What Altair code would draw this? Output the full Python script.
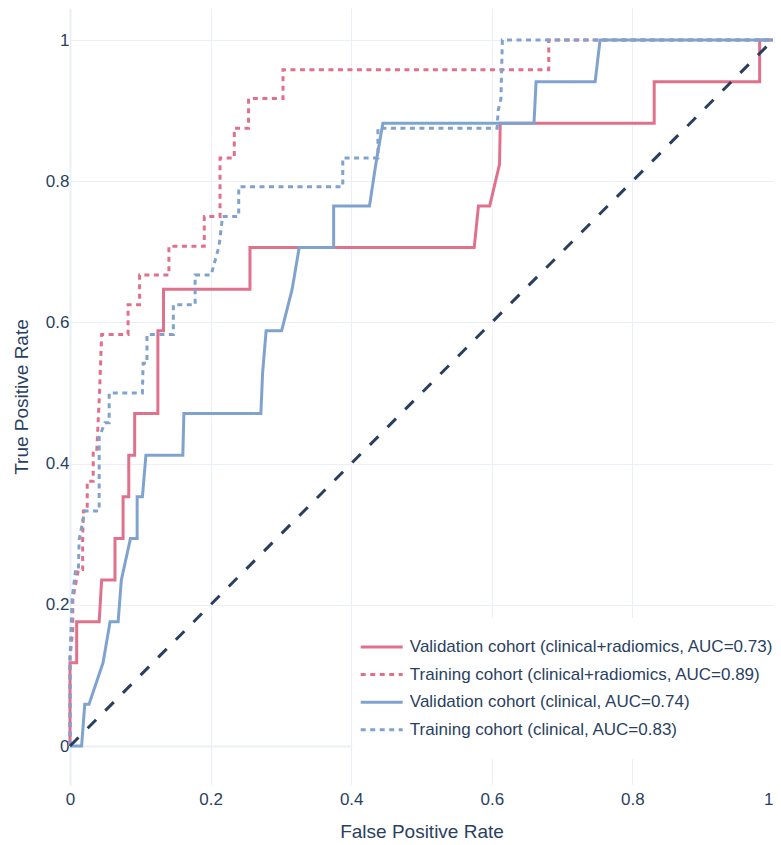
import altair as alt
import pandas as pd

series_names = [
    "Validation cohort (clinical+radiomics, AUC=0.73)",
    "Training cohort (clinical+radiomics, AUC=0.89)",
    "Validation cohort (clinical, AUC=0.74)",
    "Training cohort (clinical, AUC=0.83)",
]
series_colors = ["#E0718D", "#E0718D", "#7FA3CE", "#7FA3CE"]
series_dashes = [[1, 0], [5, 4.5], [1, 0], [5, 4.5]]

val_cr_fpr = [0, 0, 0.0095, 0.0095, 0.0415, 0.045, 0.064, 0.064, 0.0755, 0.0755, 0.0836, 0.0836, 0.092, 0.092,
              0.125, 0.125, 0.133, 0.133, 0.256, 0.256, 0.575, 0.581, 0.597, 0.611, 0.612, 0.831, 0.831, 0.981,
              0.981, 1.0]
val_cr_tpr = [0, 0.118, 0.118, 0.176, 0.176, 0.235, 0.235, 0.294, 0.294, 0.353, 0.353, 0.412, 0.412, 0.471,
              0.471, 0.588, 0.588, 0.647, 0.647, 0.706, 0.706, 0.765, 0.765, 0.824, 0.882, 0.882, 0.941, 0.941,
              1.0, 1.0]

train_cr_fpr = [0, 0, 0.004, 0.004, 0.012, 0.018, 0.018, 0.019, 0.0245, 0.0245, 0.033, 0.033, 0.038, 0.040,
                0.042, 0.045, 0.0826, 0.0826, 0.099, 0.099, 0.1407, 0.1407, 0.191, 0.191, 0.2134, 0.2134,
                0.2337, 0.2337, 0.254, 0.254, 0.303, 0.303, 0.681, 0.681, 1.0]
train_cr_tpr = [0, 0.125, 0.167, 0.208, 0.25, 0.25, 0.292, 0.333, 0.333, 0.375, 0.375, 0.417, 0.417, 0.458,
                0.5, 0.583, 0.583, 0.625, 0.625, 0.667, 0.667, 0.708, 0.708, 0.75, 0.75, 0.833, 0.833, 0.875,
                0.875, 0.917, 0.917, 0.958, 0.958, 1.0, 1.0]

val_c_fpr = [0, 0.0165, 0.021, 0.027, 0.047, 0.057, 0.0685, 0.073, 0.086, 0.0955, 0.0955, 0.103, 0.108, 0.1605,
             0.162, 0.2715, 0.274, 0.279, 0.301, 0.316, 0.326, 0.375, 0.375, 0.426, 0.435, 0.445, 0.660, 0.663,
             0.747, 0.754, 1.0]
val_c_tpr = [0, 0, 0.059, 0.059, 0.118, 0.176, 0.176, 0.235, 0.294, 0.294, 0.353, 0.353, 0.412, 0.412, 0.471,
             0.471, 0.529, 0.588, 0.588, 0.647, 0.706, 0.706, 0.765, 0.765, 0.824, 0.882, 0.882, 0.941, 0.941,
             1.0, 1.0]

train_c_fpr = [0, 0, 0.003, 0.008, 0.012, 0.013, 0.021, 0.0415, 0.0415, 0.0496, 0.0557, 0.0557, 0.103, 0.104,
               0.1095, 0.1095, 0.147, 0.147, 0.178, 0.178, 0.2007, 0.212, 0.217, 0.24, 0.24, 0.388, 0.388,
               0.438, 0.438, 0.6076, 0.609, 0.613, 0.615, 1.0]
train_c_tpr = [0, 0.125, 0.208, 0.25, 0.25, 0.292, 0.333, 0.333, 0.437, 0.458, 0.458, 0.5, 0.5, 0.542, 0.542,
               0.583, 0.583, 0.625, 0.625, 0.667, 0.667, 0.708, 0.75, 0.75, 0.792, 0.792, 0.833, 0.833, 0.875,
               0.875, 0.9, 0.917, 1.0, 1.0]

diag_fpr = [0, 1]
diag_tpr = [0, 1]

tick_values = [0, 0.2, 0.4, 0.6, 0.8, 1]

rows = []
for name, fx, fy in zip(series_names,
                        [val_cr_fpr, train_cr_fpr, val_c_fpr, train_c_fpr],
                        [val_cr_tpr, train_cr_tpr, val_c_tpr, train_c_tpr]):
    for i, (a, b) in enumerate(zip(fx, fy)):
        rows.append({"series": name, "fpr": a, "tpr": b, "idx": i})
df = pd.DataFrame(rows)
diag_df = pd.DataFrame({"fpr": diag_fpr, "tpr": diag_tpr})

TEXT = "#2a3f5f"
GRID = "#EBF0F8"
FONT = "Liberation Sans"
grid_width = {"condition": {"test": "datum.value === 0", "value": 2}, "value": 1}
x_label_align = {"condition": {"test": "datum.value === 1", "value": "right"}, "value": "center"}

x_scale = alt.Scale(domain=[0, 1], nice=False, zero=False)
y_scale = alt.Scale(domain=[-0.05524, 1.04533], nice=False, zero=False)

x_axis = alt.Axis(values=tick_values, format="~g", title="False Positive Rate", grid=True, gridColor=GRID,
                  gridWidth=grid_width, domain=False, ticks=False, labelPadding=6, titlePadding=15,
                  labelFontSize=17, titleFontSize=19, labelColor=TEXT, titleColor=TEXT, labelFont=FONT,
                  titleFont=FONT, titleFontWeight="normal", labelFlush=False, labelOverlap=False,
                  labelAlign=x_label_align)
y_axis = alt.Axis(values=tick_values, format="~g", title="True Positive Rate", grid=True, gridColor=GRID,
                  gridWidth=grid_width, domain=False, ticks=False, labelPadding=1, titlePadding=14,
                  labelFontSize=17, titleFontSize=19, labelColor=TEXT, titleColor=TEXT, labelFont=FONT,
                  titleFont=FONT, titleFontWeight="normal", labelFlush=False, labelOverlap=False)

legend = alt.Legend(title=None, orient="none", legendX=282.5, legendY=609.8, fillColor="white", padding=20.7,
                    symbolType="M-3,0H3", symbolSize=196, symbolStrokeWidth=3, labelFontSize=17,
                    labelFont=FONT, labelColor=TEXT, labelOffset=19.6, rowPadding=9.6, labelLimit=0)

lines = alt.Chart(df).mark_line(strokeWidth=3).encode(
    x=alt.X("fpr:Q", scale=x_scale, axis=x_axis),
    y=alt.Y("tpr:Q", scale=y_scale, axis=y_axis),
    color=alt.Color("series:N", scale=alt.Scale(domain=series_names, range=series_colors), legend=legend),
    strokeDash=alt.StrokeDash("series:N", scale=alt.Scale(domain=series_names, range=series_dashes),
                              legend=legend),
    order=alt.Order("idx:Q"),
)

diag = alt.Chart(diag_df).mark_line(color=TEXT, strokeWidth=3, strokeDash=[12, 13]).encode(
    x=alt.X("fpr:Q", scale=x_scale, axis=x_axis),
    y=alt.Y("tpr:Q", scale=y_scale, axis=y_axis),
)

chart = alt.layer(lines, diag).properties(
    width=703, height=777,
    padding={"left": 62, "top": 0, "right": 0, "bottom": 58},
    autosize=alt.AutoSizeParams(type="none"),
    background="white",
).configure_view(stroke=None)

chart.save("out.html", embed_options={"renderer": "svg", "actions": False})
